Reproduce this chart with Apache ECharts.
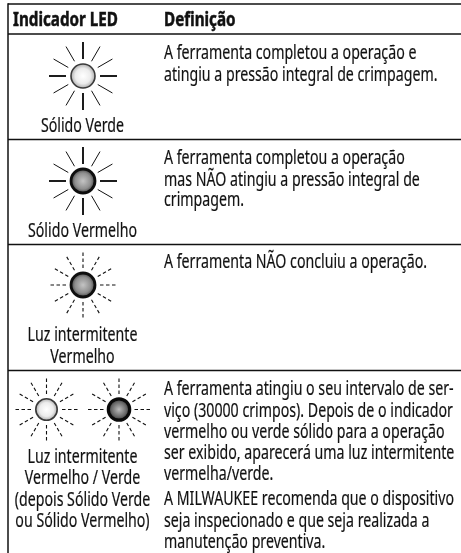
<!DOCTYPE html>
<html><head><meta charset="utf-8">
<style>html,body{margin:0;padding:0;background:#fff}#c{width:461px;height:553px}</style>
<script src="https://cdn.jsdelivr.net/npm/echarts@6/dist/echarts.min.js"></script>
</head><body><div id="c"></div>
<script>
const headers = ['Indicador LED', 'Definição'];
const ledLabels = [
  ['Sólido Verde'],
  ['Sólido Vermelho'],
  ['Luz intermitente', 'Vermelho'],
  ['Luz intermitente', 'Vermelho / Verde', '(depois Sólido Verde', 'ou Sólido Vermelho)']
];
const definitions = [
  ['A ferramenta completou a operação e', 'atingiu a pressão integral de crimpagem.'],
  ['A ferramenta completou a operação', 'mas NÃO atingiu a pressão integral de', 'crimpagem.'],
  ['A ferramenta NÃO concluiu a operação.'],
  ['A ferramenta atingiu o seu intervalo de ser-', 'viço (30000 crimpos). Depois de o indicador', 'vermelho ou verde sólido para a operação', 'ser exibido, aparecerá uma luz intermitente', 'vermelha/verde.',
   'A MILWAUKEE recomenda que o dispositivo', 'seja inspecionado e que seja realizada a', 'manutenção preventiva.']
];
const ledKinds = [['green-solid'], ['red-solid'], ['red-blink'], ['green-blink', 'dark-blink']];

// layout (pixels of the 461x553 page, mapped by hidden axes)
const FONT = '"Noto Sans"';
const SIZE = 19.5, SX = 0.727, SX_BOLD = 0.78;
const ruleYs = [4, 34, 139.5, 244.5, 370.5];
const LEFT = 8, RIGHT = 461, BOTTOM = 553;
const ledCy = [76, 181, 285, 409.5];
const ledCx = [[83], [83], [83], [46.5, 119]];
const ledR = [12, 12, 12, 10.7];
const rayOut = [34, 34, 34, 32];
const rayIn = [17, 17, 17, 15.5];
const labelYs = [[126], [231], [335, 357], [457, 478, 500, 521]];
const defYs = [[53, 75], [158, 180, 200], [262], [389, 411, 432, 453, 474, 499, 521, 542]];
const faces = {
  green: ['#ffffff', '#ececec', '#a4a4a4', '#3a3a3a', 1.6],
  red: ['#c4c4c4', '#8e8e8e', '#2a2a2a', '#0e0e0e', 2.8],
  dark: ['#bcbcbc', '#686868', '#1a1a1a', '#0a0a0a', 3.2]
};

function text(api, x, y, s, align, bold) {
  const p = api.coord([x, y]);
  return { type: 'text', x: p[0], y: p[1], scaleX: bold ? SX_BOLD : SX, style: {
    text: s, x: 0, y: 0, fill: '#111', align: align, verticalAlign: 'middle',
    stroke: '#111', lineWidth: bold ? 0.5 : 0.2,
    font: (bold ? 'bold ' : '') + SIZE + 'px ' + FONT
  }};
}
function line(api, a, b, lw, dash) {
  const p = api.coord(a), q = api.coord(b);
  return { type: 'line', shape: { x1: p[0], y1: p[1], x2: q[0], y2: q[1] },
    style: { stroke: '#111', lineWidth: lw, lineDash: dash || null } };
}
function led(api, cx, cy, kind, row) {
  const [face, mode] = kind.split('-'), f = faces[face], blink = mode === 'blink';
  const out = [], rOut = rayOut[row], rIn = rayIn[row];
  for (let i = 0; i < 12; i++) {
    const a = i * Math.PI / 6, c = Math.cos(a), s = Math.sin(a);
    const major = i % 3 === 0;
    out.push(line(api, [cx + c * rIn, cy + s * rIn], [cx + c * rOut, cy + s * rOut],
      blink ? 1.1 : (major ? 1.9 : 1), blink ? [3.5, 2.5] : null));
  }
  const p = api.coord([cx, cy]);
  out.push({ type: 'circle', shape: { cx: p[0], cy: p[1], r: ledR[row] }, style: {
    fill: new echarts.graphic.RadialGradient(0.5, 0.5, 0.5, [
      { offset: 0, color: f[0] }, { offset: 0.6, color: f[1] }, { offset: 1, color: f[2] }]),
    stroke: f[3], lineWidth: f[4] } });
  return out;
}

const chart = echarts.init(document.getElementById('c'), null, { renderer: 'canvas' });
chart.setOption({
  animation: false,
  grid: { left: 0, top: 0, right: 0, bottom: 0 },
  xAxis: { type: 'value', min: 0, max: 461, show: false },
  yAxis: { type: 'value', min: 0, max: 553, inverse: true, show: false },
  series: [
    { type: 'custom', coordinateSystem: 'cartesian2d', silent: true, clip: false,
      data: ruleYs.map((y, i) => [i, y]),
      encode: { x: 0, y: 1 },
      renderItem: (params, api) => {
        const y = api.value(1);
        return line(api, [LEFT, y], [RIGHT, y], 1.5);
      } },
    { type: 'custom', coordinateSystem: 'cartesian2d', silent: true, clip: false,
      data: [[LEFT, 0]], encode: { x: 0, y: 1 },
      renderItem: (params, api) => line(api, [LEFT, 3.3], [LEFT, BOTTOM], 1.5) },
    { type: 'custom', coordinateSystem: 'cartesian2d', silent: true, clip: false,
      data: [[13, 20], [164, 20]], encode: { x: 0, y: 1 },
      renderItem: (params, api) => text(api, api.value(0), api.value(1), headers[params.dataIndex], 'left', true) },
    { type: 'custom', coordinateSystem: 'cartesian2d', silent: true, clip: false,
      data: ledKinds.map((k, i) => [i, i]), encode: { x: 0, y: 1 },
      renderItem: (params, api) => {
        const r = params.dataIndex, kids = [];
        ledKinds[r].forEach((k, j) => kids.push(...led(api, ledCx[r][j], ledCy[r], k, r)));
        ledLabels[r].forEach((s, j) => kids.push(text(api, 82.5, labelYs[r][j], s, 'center')));
        definitions[r].forEach((s, j) => kids.push(text(api, 164, defYs[r][j], s, 'left')));
        return { type: 'group', children: kids };
      } }
  ]
});
</script></body></html>
